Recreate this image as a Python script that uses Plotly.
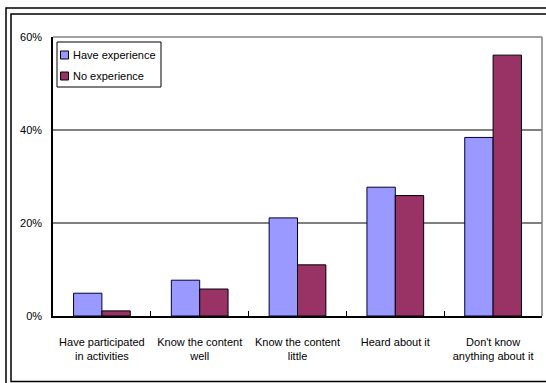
import plotly.graph_objects as go

categories = [
    "Have participated<br>in activities",
    "Know the content<br>well",
    "Know the content<br>little",
    "Heard about it",
    "Don't know<br>anything about it",
]
have_experience = [4.9, 7.7, 21.1, 27.7, 38.4]
no_experience = [1.1, 5.8, 11.0, 25.9, 56.1]
y_ticks = [0, 20, 40, 60]
y_tick_text = ["0%", "20%", "40%", "60%"]

series_names = ["Have experience", "No experience"]
fill_colors = ["#9999FF", "#993366"]
edge_colors = ["#000033", "#000000"]

W, H = 546, 383
L, R, T, B = 53, 542, 37, 316


def px_x(p):
    return (p - L) / (R - L)


def px_y(p):
    return (B - p) / (B - T)


FONT = "Liberation Sans Narrow, Arial Narrow, Liberation Sans, sans-serif"

fig = go.Figure()
for name, vals, fc, ec in zip(series_names, [have_experience, no_experience],
                              fill_colors, edge_colors):
    fig.add_trace(go.Bar(
        x=categories, y=vals, name=name, showlegend=False,
        marker=dict(color=fc, line=dict(color=ec, width=1)),
    ))

shapes = [
    # plot area top and right edges
    dict(type="line", xref="paper", yref="paper", x0=0, x1=1, y0=1, y1=1,
         line=dict(color="#808080", width=1.5)),
    dict(type="line", xref="paper", yref="paper", x0=1, x1=1, y0=0, y1=1,
         line=dict(color="#808080", width=1.5)),
    # double frame around the chart
    dict(type="rect", xref="paper", yref="paper",
         x0=px_x(6), x1=px_x(W + 10), y0=px_y(H + 10), y1=px_y(8),
         line=dict(color="black", width=1.5)),
    dict(type="rect", xref="paper", yref="paper",
         x0=px_x(11), x1=px_x(W + 10), y0=px_y(381.5), y1=px_y(14),
         line=dict(color="black", width=1.5)),
    # legend box
    dict(type="rect", xref="paper", yref="paper",
         x0=px_x(57), x1=px_x(161), y0=px_y(87), y1=px_y(42),
         line=dict(color="black", width=1), fillcolor="white"),
]
annotations = []
for i, (name, fc) in enumerate(zip(series_names, fill_colors)):
    cy = 55 + i * 21
    shapes.append(dict(
        type="rect", xref="paper", yref="paper",
        x0=px_x(60.5), x1=px_x(68.5), y0=px_y(cy + 4), y1=px_y(cy - 4),
        line=dict(color="black", width=1), fillcolor=fc,
    ))
    annotations.append(dict(
        xref="paper", yref="paper", x=px_x(71), y=px_y(cy),
        xanchor="left", yanchor="middle", text=name, showarrow=False,
        font=dict(size=11, color="black"),
    ))

fig.update_layout(
    width=W, height=H,
    margin=dict(l=L, r=W - R, t=T, b=H - B, autoexpand=False),
    paper_bgcolor="white", plot_bgcolor="white",
    barmode="group", bargap=0.42, bargroupgap=0,
    font=dict(family=FONT, size=11, color="black"),
    showlegend=False,
    shapes=shapes,
    annotations=annotations,
    xaxis=dict(
        showline=True, linecolor="black", linewidth=1.5,
        ticks="inside", tickson="boundaries", ticklen=5, tickcolor="black",
        showgrid=False, ticklabelstandoff=15, tickangle=0, automargin=False,
    ),
    yaxis=dict(
        range=[0, 60], tickvals=y_ticks, ticktext=y_tick_text,
        showline=True, linecolor="black", linewidth=1.5,
        showgrid=True, gridcolor="#808080", gridwidth=1.5,
        zeroline=False, ticks="", ticklabelstandoff=7, automargin=False,
    ),
)

fig.write_html("out.html")
